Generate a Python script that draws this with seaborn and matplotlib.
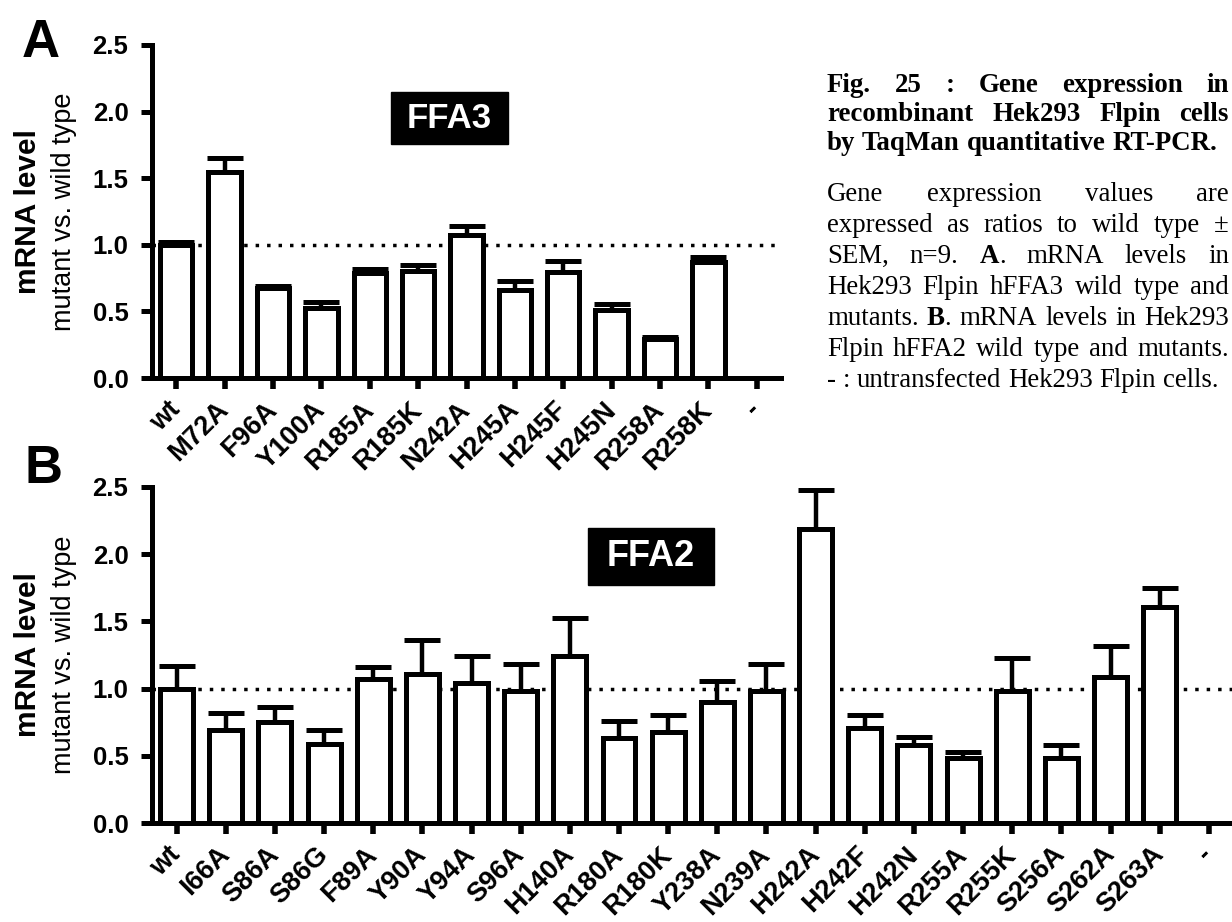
import numpy as np
import pandas as pd
import matplotlib
matplotlib.use("Agg")
import matplotlib.pyplot as plt
from matplotlib.patches import Rectangle
import seaborn as sns

# panel A: hFFA3
a_cats = ['wt', 'M72A', 'F96A', 'Y100A', 'R185A', 'R185K', 'N242A', 'H245A',
          'H245F', 'H245N', 'R258A', 'R258K', '-']
a_mean = [1.00, 1.55, 0.675, 0.525, 0.785, 0.805, 1.07, 0.66, 0.795, 0.51, 0.29, 0.87, 0.0]
a_sem = [0.02, 0.105, 0.015, 0.045, 0.03, 0.04, 0.07, 0.065, 0.08, 0.045, 0.015, 0.04, 0.0]

# panel B: hFFA2
b_cats = ['wt', 'I66A', 'S86A', 'S86G', 'F89A', 'Y90A', 'Y94A', 'S96A', 'H140A', 'R180A',
          'R180K', 'Y238A', 'N239A', 'H242A', 'H242F', 'H242N', 'R255A', 'R255K', 'S256A',
          'S262A', 'S263A', '-']
b_mean = [1.00, 0.69, 0.755, 0.59, 1.07, 1.11, 1.045, 0.985, 1.245, 0.635, 0.68, 0.90,
          0.98, 2.19, 0.705, 0.58, 0.48, 0.98, 0.487, 1.09, 1.605, 0.0]
b_sem = [0.17, 0.125, 0.11, 0.10, 0.09, 0.25, 0.20, 0.195, 0.28, 0.125, 0.125, 0.155,
         0.205, 0.29, 0.10, 0.06, 0.05, 0.245, 0.09, 0.225, 0.145, 0.0]

y_ticks = [0.0, 0.5, 1.0, 1.5, 2.0, 2.5]

caption_bold = ["Fig. 25 : Gene expression in",
                "recombinant Hek293 Flpin cells",
                "by TaqMan quantitative RT-PCR."]
caption_body = ["Gene expression values are",
                "expressed as ratios to wild type \u00b1",
                "SEM, n=9. *A*. mRNA levels in",
                "Hek293 Flpin hFFA3 wild type and",
                "mutants. *B*. mRNA levels in Hek293",
                "Flpin hFFA2 wild type and mutants.",
                "- : untransfected Hek293 Flpin cells."]

W, H = 1232, 922
sns.set_style("ticks")
plt.rcParams['font.family'] = ['Liberation Sans', 'DejaVu Sans']
for key in ['text.color', 'axes.labelcolor', 'xtick.color', 'ytick.color', 'axes.edgecolor']:
    plt.rcParams[key] = 'black'
LW = 3.6

fig = plt.figure(figsize=(W / 100, H / 100), dpi=100)


def px_axes(left, right, top, bottom):
    return fig.add_axes([left / W, 1 - bottom / H, (right - left) / W, (bottom - top) / H])


def draw_panel(ax, cats, mean, sem):
    df = pd.DataFrame({'mutant': cats, 'level': mean})
    ax.axhline(1.0, color='black', lw=2.5, ls=(0, (1, 2.3)), zorder=0)
    sns.barplot(data=df, x='mutant', y='level', order=cats, color='white', saturation=1,
                edgecolor='black', linewidth=LW, width=0.67, ax=ax, zorder=2)
    n = len(cats) - 1
    ax.errorbar(np.arange(n), mean[:n], yerr=[np.zeros(n), sem[:n]], fmt='none',
                ecolor='black', elinewidth=3.2, capsize=13, capthick=LW, zorder=1)
    ax.set_xlim(-0.5, len(cats) - 0.5)
    ax.set_ylim(0, 2.5)
    ax.set_yticks(y_ticks)
    ax.set_yticklabels([f"{t:.1f}" for t in y_ticks], fontweight='bold', fontsize=18.5)
    ax.set_xticks(range(len(cats)))
    ax.set_xticklabels(cats, rotation=45, ha='right', va='center', rotation_mode='anchor',
                       fontweight='bold', fontsize=19.5)
    ax.set_xlabel('')
    ax.set_ylabel('')
    sns.despine(ax=ax)
    for s in ['left', 'bottom']:
        ax.spines[s].set_linewidth(LW)
    ax.tick_params(axis='y', length=8, width=LW, pad=9)
    ax.tick_params(axis='x', length=8, width=4, pad=12)
    ax.set_facecolor('none')


axA = px_axes(152, 781, 45, 378)
draw_panel(axA, a_cats, a_mean, a_sem)
axB = px_axes(152, 1233.5, 487, 823)
draw_panel(axB, b_cats, b_mean, b_sem)

# y axis titles
for yc in [(45 + 378) / 2, (487 + 823) / 2]:
    fig.text(28 / W, 1 - yc / H, "mRNA level", rotation=90, ha='center', va='center',
             fontsize=21.5, fontweight='bold')
    fig.text(64 / W, 1 - yc / H, "mutant vs. wild type", rotation=90, ha='center',
             va='center', fontsize=19.5)

# panel letters
fig.text(22 / W, 1 - 57 / H, "A", fontsize=38, fontweight='bold', va='baseline')
fig.text(25 / W, 1 - 483 / H, "B", fontsize=38, fontweight='bold', va='baseline')

# black receptor boxes
for (x0, x1, y0, y1), name, fs in [((391, 508, 92, 144), "FFA3", 25),
                                   ((588, 714, 528, 585), "FFA2", 26)]:
    fig.add_artist(Rectangle((x0 / W, 1 - y1 / H), (x1 - x0) / W, (y1 - y0) / H,
                             transform=fig.transFigure, color='black', zorder=5))
    fig.text((x0 + x1) / 2 / W, 1 - (y0 + y1) / 2 / H, name, color='white', fontsize=fs,
             fontweight='bold', ha='center', va='center', zorder=6)

# caption, justified by hand
renderer = fig.canvas.get_renderer()
SERIF = ['Liberation Serif', 'DejaVu Serif']
CAP_FS = 19.4


def text_width(s, bold):
    t = fig.text(0, 0, s, fontsize=CAP_FS, family=SERIF,
                 fontweight='bold' if bold else 'normal')
    w = t.get_window_extent(renderer).width
    t.remove()
    return w


def caption_line(line, y, base_bold, justify, x0=827, x1=1229):
    words = []
    for word in line.split(' '):
        segs = []
        bold = base_bold
        for k, part in enumerate(word.split('*')):
            if part:
                segs.append((part, bold if k % 2 == 0 else True))
        words.append(segs)
    widths = [sum(text_width(p, b) for p, b in w) for w in words]
    space = text_width('a a', base_bold) - text_width('aa', base_bold)
    gap = (x1 - x0 - sum(widths)) / (len(words) - 1) if justify else space
    x = x0
    for w, ww in zip(words, widths):
        xs = x
        for p, b in w:
            fig.text(xs / W, 1 - y / H, p, fontsize=CAP_FS, family=SERIF, va='baseline',
                     fontweight='bold' if b else 'normal')
            xs += text_width(p, b)
        x += ww + gap


for i, line in enumerate(caption_bold):
    caption_line(line, 92 + i * 29, True, i < len(caption_bold) - 1)
for i, line in enumerate(caption_body):
    caption_line(line, 201 + i * 31, False, i < len(caption_body) - 1)

fig.savefig("out.png", dpi=100)
